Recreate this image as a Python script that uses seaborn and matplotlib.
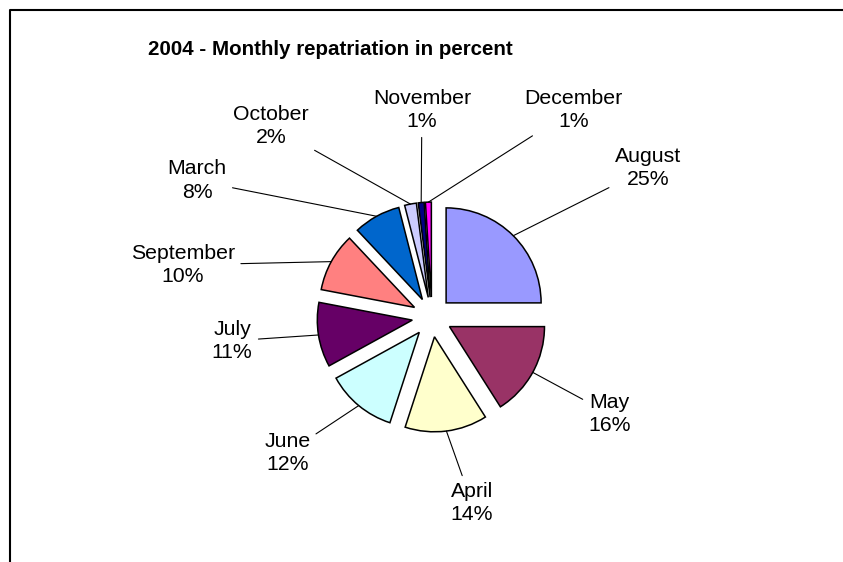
import numpy as np
import matplotlib.pyplot as plt
import seaborn as sns
from matplotlib.lines import Line2D

# Donnees du graphique
mois = ["August", "May", "April", "June", "July", "September",
        "March", "October", "November", "December"]
pourcent = [25, 16, 14, 12, 11, 10, 8, 2, 1, 1]
couleurs = ["#9999FF", "#993366", "#FFFFCC", "#CCFFFF", "#660066",
            "#FF8080", "#0066CC", "#CCCCFF", "#000080", "#FF00FF"]
titre = "2004 - Monthly repatriation in percent"

# Placement des etiquettes (angle en degres, distance en rayons)
pos_etiquettes = [(34.6, 2.76), (-28.6, 2.13), (-77.9, 2.00), (-136.8, 2.09),
                  (186.8, 2.12), (168.2, 2.68), (149.9, 2.86), (130.1, 2.63),
                  (92.8, 2.18), (55.7, 2.64)]

sns.set_theme(style="white")
plt.rcParams['font.family'] = ['Liberation Sans', 'DejaVu Sans']
plt.rcParams['text.color'] = 'black'

W, H = 843, 562
fig = plt.figure(figsize=(W / 100, H / 100), dpi=100)
ax = fig.add_axes([0, 0, 1, 1])

# centre du camembert et rayon en pixels
cx, cy, rpx = 432, 317, 95

wedges, _ = ax.pie(pourcent, colors=couleurs, startangle=90, counterclock=False,
                   explode=[0.21] * len(pourcent), radius=1,
                   wedgeprops=dict(edgecolor="black", linewidth=1.1))

for w, nom, val, (ang, dist) in zip(wedges, mois, pourcent, pos_etiquettes):
    mid = np.deg2rad((w.theta1 + w.theta2) / 2)
    bord = (w.center[0] + w.r * np.cos(mid), w.center[1] + w.r * np.sin(mid))
    lx = dist * np.cos(np.deg2rad(ang))
    ly = dist * np.sin(np.deg2rad(ang))
    ax.annotate(f"{nom}\n{val}%", xy=bord, xytext=(lx, ly),
                ha="center", va="center", fontsize=15.3, linespacing=1.3,
                color="black",
                arrowprops=dict(arrowstyle="-", color="black", lw=0.8,
                                shrinkA=2, shrinkB=0))

ax.set_aspect("auto")
ax.set_xlim(-cx / rpx, (W - cx) / rpx)
ax.set_ylim(-(H - cy) / rpx, cy / rpx)
ax.axis("off")

# Titre
fig.text(330 / W, 1 - 55 / H, titre, ha="center", va="baseline",
         fontsize=14.8, fontweight="bold", color="black")

# Bordure du graphique (coupee a droite et en bas)
fig.add_artist(Line2D([9.5 / W, 9.5 / W, 1], [0, 1 - 9.5 / H, 1 - 9.5 / H],
                      transform=fig.transFigure, color="black", lw=1.5))

fig.savefig("out.png", dpi=100)
